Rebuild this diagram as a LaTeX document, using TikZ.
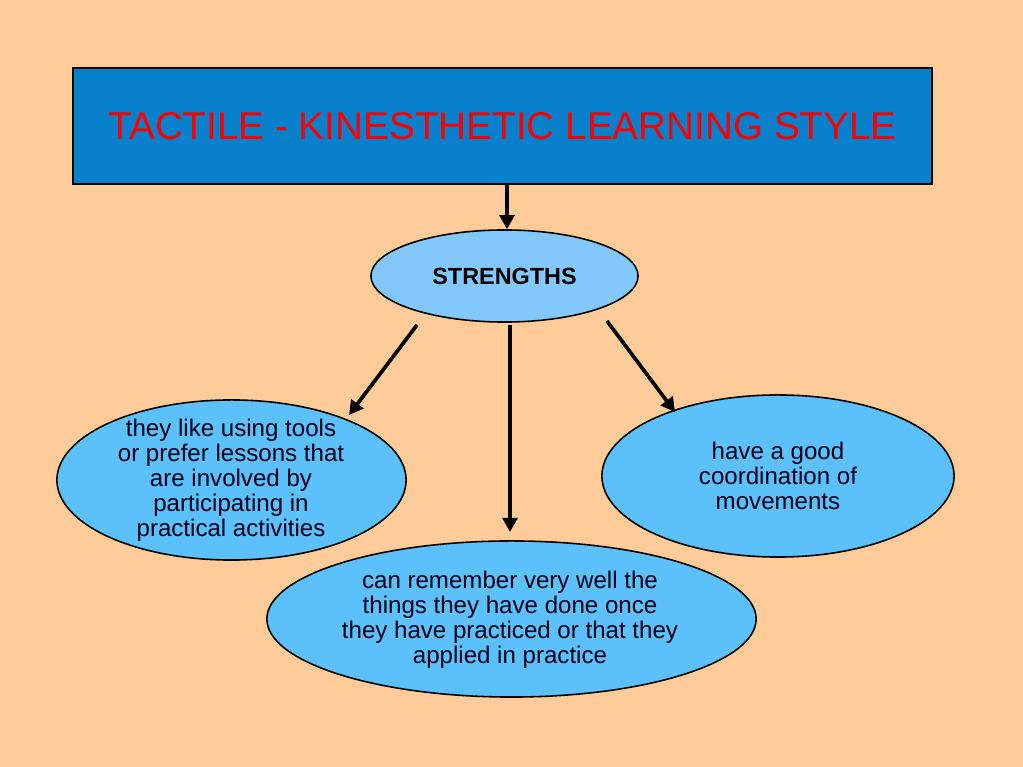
\documentclass[tikz,border=0pt]{standalone}
\usepackage{fontspec}
\setmainfont{Liberation Sans}
\usetikzlibrary{shapes.geometric,arrows.meta}
\definecolor{bgpeach}{RGB}{255,204,153}
\definecolor{titleblue}{RGB}{8,128,204}
\definecolor{titlered}{RGB}{250,0,0}
\definecolor{lightblue}{RGB}{130,200,250}
\definecolor{midblue}{RGB}{92,192,250}
\begin{document}
\begin{tikzpicture}[x=0.01cm,y=-0.01cm,
  bubble/.style={ellipse,draw=black,line width=0.45pt,fill=midblue,inner sep=0pt,align=center},
  btext/.style={font=\fontsize{6.85pt}{7.1pt}\selectfont,align=center,text=black!90!blue},
  arr/.style={line width=1.05pt,-{Triangle[length=4pt,width=4.2pt]}}]
\fill[bgpeach] (0,0) rectangle (1023,767);
\useasboundingbox (0,0) rectangle (1023,767);
\node[draw=black,line width=0.45pt,fill=titleblue,minimum width=8.59cm,minimum height=1.16cm,inner sep=0pt,
  text=titlered,font=\fontsize{11.0pt}{13pt}\selectfont] (title) at (502.5,126) {TACTILE - KINESTHETIC LEARNING STYLE};
\node[bubble,fill=lightblue,minimum width=2.67cm,minimum height=0.92cm,font=\fontsize{6.65pt}{7pt}\selectfont\bfseries] (str) at (504.5,276) {STRENGTHS};
\node[bubble,minimum width=3.49cm,minimum height=1.60cm] (left) at (231.5,480) {};
\node[btext] (lefttext) at (231,480) {they like using tools\\or prefer lessons that\\are involved by\\participating in\\practical activities};
\node[bubble,minimum width=3.52cm,minimum height=1.62cm] (right) at (778,476) {};
\node[btext] (righttext) at (778,476) {have a good\\coordination of\\movements};
\node[bubble,minimum width=4.89cm,minimum height=1.56cm] (bottom) at (511.5,619) {};
\node[btext] (bottomtext) at (510,620) {can remember very well the\\things they have done once\\they have practiced or that they\\applied in practice};
\coordinate (sl) at (417,325);
\coordinate (sm) at (510,325);
\coordinate (sr) at (607,321);
\coordinate (el) at (349,415);
\coordinate (em) at (510,532);
\coordinate (er) at (675,412);
\draw[arr] (title.south -| 507,0) -- (str.north -| 507,0);
\draw[arr] (sl) -- (el);
\draw[arr] (sm) -- (em);
\draw[arr] (sr) -- (er);
\end{tikzpicture}
\end{document}
